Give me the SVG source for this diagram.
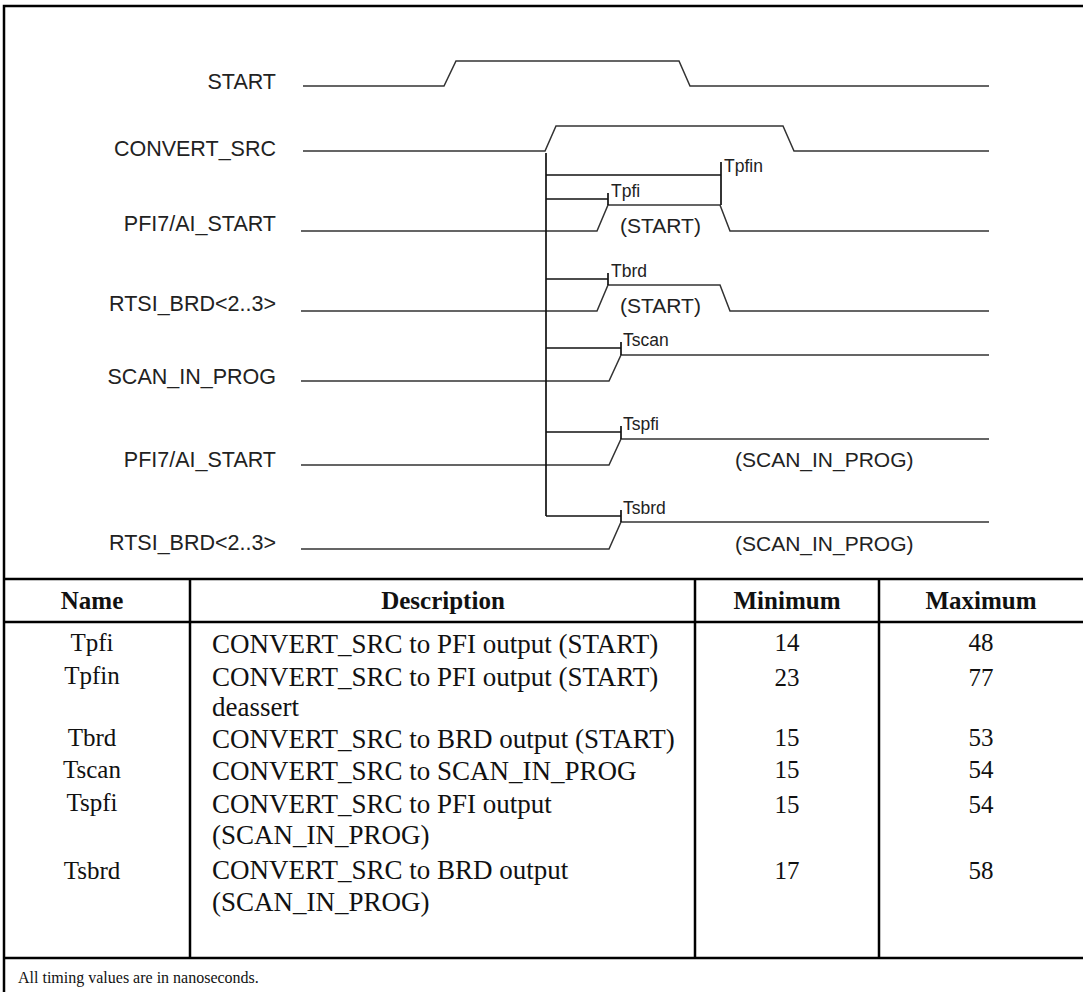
<svg xmlns="http://www.w3.org/2000/svg" width="1083" height="992" viewBox="0 0 1083 992">
<style>
.frame{fill:none;stroke:#000;stroke-width:2.5}
.grid{fill:none;stroke:#000;stroke-width:2.5}
.wave{fill:none;stroke:#333;stroke-width:1.5}
.tm{fill:none;stroke:#111;stroke-width:1.7}
.sig{font-family:"Liberation Sans",Arial,sans-serif;font-size:21.5px;fill:#222;text-anchor:end}
.ann{font-family:"Liberation Sans",Arial,sans-serif;font-size:21px;fill:#222}
.tl{font-family:"Liberation Sans",Arial,sans-serif;font-size:17.5px;fill:#222}
.th{font-family:"Liberation Serif","Times New Roman",serif;font-size:25px;font-weight:bold;fill:#111;text-anchor:middle}
.td{font-family:"Liberation Serif","Times New Roman",serif;font-size:27px;fill:#111}
.tc{font-family:"Liberation Serif","Times New Roman",serif;font-size:25px;fill:#111;text-anchor:middle}
.foot{font-family:"Liberation Serif","Times New Roman",serif;font-size:16px;fill:#111}
</style>
<rect class="frame" x="4" y="6" width="1100" height="1010"/>
<g id="signals">
<g id="start"><text class="sig" x="276" y="89">START</text><polyline class="wave" points="303,86 444,86 456,61 679,61 690,86 989,86"/></g>
<g id="convert_src"><text class="sig" x="276" y="156">CONVERT_SRC</text><polyline class="wave" points="303,151 545,151 556,126 783,126 794,151 989,151"/></g>
<g id="pfi7_a"><text class="sig" x="276" y="231">PFI7/AI_START</text><polyline class="wave" points="301,231 597,231 608,205 720,205 730,231 989,231"/><text class="ann" x="620" y="233">(START)</text></g>
<g id="rtsi_a"><text class="sig" x="276" y="311">RTSI_BRD&lt;2..3&gt;</text><polyline class="wave" points="301,311 597,311 608,285 720,285 730,311 989,311"/><text class="ann" x="620" y="313">(START)</text></g>
<g id="scan"><text class="sig" x="276" y="384">SCAN_IN_PROG</text><polyline class="wave" points="301,381 609,381 621,355 989,355"/></g>
<g id="pfi7_b"><text class="sig" x="276" y="467">PFI7/AI_START</text><polyline class="wave" points="301,465 609,465 621,439 989,439"/><text class="ann" x="735" y="467">(SCAN_IN_PROG)</text></g>
<g id="rtsi_b"><text class="sig" x="276" y="550">RTSI_BRD&lt;2..3&gt;</text><polyline class="wave" points="301,549 609,549 621,522 989,522"/><text class="ann" x="735" y="551">(SCAN_IN_PROG)</text></g>
</g>
<g id="connectors">
<line class="tm" x1="546" y1="153" x2="546" y2="516"/>
<polyline class="tm" points="546,175 721,175"/><line class="tm" x1="721" y1="162" x2="721" y2="205"/>
<polyline class="tm" points="546,199 608,199"/><line class="tm" x1="608" y1="193" x2="608" y2="205"/>
<polyline class="tm" points="546,279 608,279"/><line class="tm" x1="608" y1="273" x2="608" y2="285"/>
<polyline class="tm" points="546,348 621,348"/><line class="tm" x1="621" y1="342" x2="621" y2="355"/>
<polyline class="tm" points="546,432 621,432"/><line class="tm" x1="621" y1="426" x2="621" y2="439"/>
<polyline class="tm" points="546,516 621,516"/><line class="tm" x1="621" y1="510" x2="621" y2="522"/>
</g>
<g id="timing-labels">
<text class="tl" x="724" y="172">Tpfin</text>
<text class="tl" x="611" y="197">Tpfi</text>
<text class="tl" x="611" y="277">Tbrd</text>
<text class="tl" x="623" y="346">Tscan</text>
<text class="tl" x="623" y="430">Tspfi</text>
<text class="tl" x="623" y="514">Tsbrd</text>
</g>
<g id="table">
<line class="grid" x1="4" y1="579" x2="1083" y2="579"/>
<line class="grid" x1="4" y1="622" x2="1083" y2="622"/>
<line class="grid" x1="4" y1="958" x2="1083" y2="958"/>
<line class="grid" x1="190" y1="579" x2="190" y2="958"/>
<line class="grid" x1="695" y1="579" x2="695" y2="958"/>
<line class="grid" x1="879" y1="579" x2="879" y2="958"/>
<text class="th" x="92" y="609">Name</text>
<text class="th" x="443" y="609">Description</text>
<text class="th" x="787" y="609">Minimum</text>
<text class="th" x="981" y="609">Maximum</text>
<text class="tc" x="92" y="651">Tpfi</text><text class="td" x="212" y="653">CONVERT_SRC to PFI output (START)</text><text class="tc" x="787" y="651">14</text><text class="tc" x="981" y="651">48</text>
<text class="tc" x="92" y="684">Tpfin</text><text class="td" x="212" y="686">CONVERT_SRC to PFI output (START)</text><text class="td" x="212" y="716">deassert</text><text class="tc" x="787" y="686">23</text><text class="tc" x="981" y="686">77</text>
<text class="tc" x="92" y="746">Tbrd</text><text class="td" x="212" y="748">CONVERT_SRC to BRD output (START)</text><text class="tc" x="787" y="746">15</text><text class="tc" x="981" y="746">53</text>
<text class="tc" x="92" y="778">Tscan</text><text class="td" x="212" y="780">CONVERT_SRC to SCAN_IN_PROG</text><text class="tc" x="787" y="778">15</text><text class="tc" x="981" y="778">54</text>
<text class="tc" x="92" y="811">Tspfi</text><text class="td" x="212" y="813">CONVERT_SRC to PFI output</text><text class="td" x="212" y="844">(SCAN_IN_PROG)</text><text class="tc" x="787" y="813">15</text><text class="tc" x="981" y="813">54</text>
<text class="tc" x="92" y="879">Tsbrd</text><text class="td" x="212" y="879">CONVERT_SRC to BRD output</text><text class="td" x="212" y="911">(SCAN_IN_PROG)</text><text class="tc" x="787" y="879">17</text><text class="tc" x="981" y="879">58</text>
<text class="foot" x="18" y="983">All timing values are in nanoseconds.</text>
</g>
</svg>
